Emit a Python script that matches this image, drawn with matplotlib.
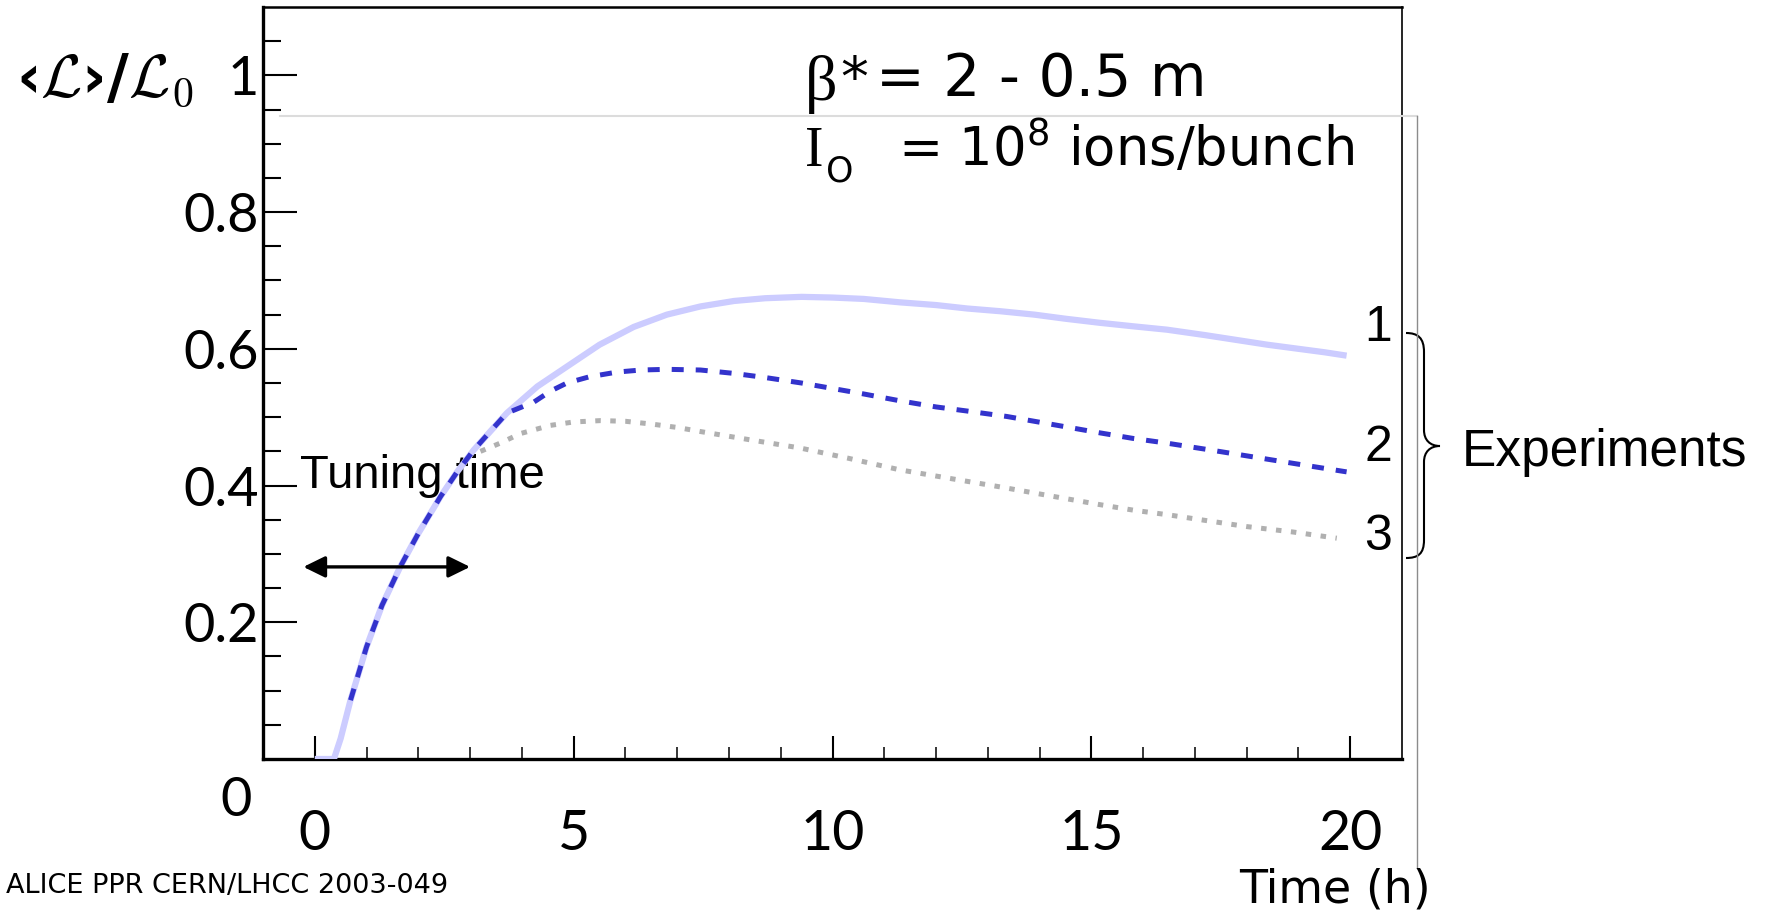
import matplotlib
matplotlib.use("Agg")
import matplotlib.pyplot as plt
from matplotlib.path import Path
from matplotlib.patches import PathPatch
from matplotlib.ticker import FixedLocator

# Normalised mean luminosity <L>/L0 versus fill time (h) for the three experiments
time_exp1 = [0.0, 0.37, 0.5, 0.69, 1.0, 1.3, 1.65, 2.0, 2.43, 2.75, 3.07, 3.4, 3.71, 4.3,
             4.87, 5.5, 6.16, 6.8, 7.45, 8.1, 8.7, 9.4, 10.0, 10.6, 11.3, 12.0, 12.6,
             13.24, 13.9, 14.5, 15.17, 15.8, 16.46, 17.2, 17.8, 18.4, 19.0, 19.5, 19.93]
lumi_exp1 = [0.0, 0.0, 0.03, 0.086, 0.164, 0.225, 0.281, 0.33, 0.384, 0.42, 0.452, 0.48,
             0.506, 0.545, 0.574, 0.606, 0.632, 0.650, 0.662, 0.670, 0.674, 0.676, 0.675,
             0.673, 0.668, 0.664, 0.659, 0.655, 0.650, 0.644, 0.638, 0.633, 0.628, 0.620,
             0.613, 0.606, 0.600, 0.595, 0.590]

time_exp2 = [0.69, 1.0, 1.3, 1.65, 2.0, 2.43, 2.75, 3.07, 3.4, 3.71, 4.23, 4.55, 4.87, 5.3,
             5.84, 6.3, 6.8, 7.45, 8.1, 8.7, 9.4, 10.0, 10.6, 11.3, 12.0, 12.6, 13.37,
             14.2, 15.17, 15.8, 16.46, 17.3, 18.2, 19.1, 19.93]
lumi_exp2 = [0.086, 0.164, 0.225, 0.281, 0.33, 0.384, 0.42, 0.452, 0.48, 0.506, 0.522,
             0.538, 0.550, 0.559, 0.566, 0.569, 0.570, 0.569, 0.564, 0.558, 0.550, 0.542,
             0.534, 0.524, 0.515, 0.509, 0.501, 0.490, 0.477, 0.469, 0.462, 0.452, 0.441,
             0.430, 0.420]

time_exp3 = [3.2, 3.58, 3.97, 4.55, 5.0, 5.52, 6.0, 6.5, 7.0, 7.45, 8.4, 9.37, 10.3, 11.3,
             12.3, 13.24, 14.2, 15.17, 15.81, 16.5, 17.2, 18.0, 18.9, 19.74]
lumi_exp3 = [0.45, 0.462, 0.476, 0.488, 0.493, 0.495, 0.494, 0.490, 0.485, 0.479, 0.467,
             0.455, 0.440, 0.423, 0.410, 0.398, 0.385, 0.372, 0.364, 0.357, 0.349, 0.340,
             0.332, 0.323]

series_labels = ["1", "2", "3"]
x_major = [0, 5, 10, 15, 20]
x_minor = [1, 2, 3, 4, 6, 7, 8, 9, 11, 12, 13, 14, 16, 17, 18, 19]
y_major = [0.2, 0.4, 0.6, 0.8, 1.0]
y_major_labels = ["0.2", "0.4", "0.6", "0.8", "1"]
y_minor = [0.05, 0.1, 0.15, 0.25, 0.3, 0.35, 0.45, 0.5, 0.55, 0.65, 0.7, 0.75,
           0.85, 0.9, 0.95, 1.05]
tuning_span = (-0.22, 3.0)
tuning_level = 0.281

W, H = 1771, 916
fig = plt.figure(figsize=(W / 100, H / 100), dpi=100)
fig.patch.set_facecolor("white")

ax = fig.add_axes([263 / W, (H - 759) / H, (1402 - 263) / W, (759 - 7) / H])
ax.set_xlim(-1, 21)
ax.set_ylim(0, 1.1)

# luminosity curves
ax.plot(time_exp3, lumi_exp3, color="#b0b0b0", lw=3.6, dashes=(1.1, 1.9), zorder=2)
ax.plot(time_exp1, lumi_exp1, color="#ccccff", lw=4.5, solid_capstyle="butt", zorder=3)
ax.plot(time_exp2, lumi_exp2, color="#3333cc", lw=3.6, dashes=(2.4, 2.4), zorder=4)

# tuning-time arrow and label
ax.annotate("", xy=(tuning_span[0], tuning_level), xytext=(tuning_span[1], tuning_level),
            arrowprops=dict(arrowstyle="<|-|>,head_length=0.55,head_width=0.27",
                            mutation_scale=24, color="black", lw=2.4,
                            shrinkA=0, shrinkB=0), zorder=5)
ax.text(-0.28, 0.396, "Tuning time", fontsize=34, family="Liberation Sans",
        ha="left", va="baseline", zorder=1)

# axes frame and ticks
for side, lw in (("left", 2.4), ("bottom", 2.4), ("top", 1.8), ("right", 1.2)):
    ax.spines[side].set_linewidth(lw)
ax.xaxis.set_major_locator(FixedLocator(x_major))
ax.xaxis.set_minor_locator(FixedLocator(x_minor))
ax.yaxis.set_major_locator(FixedLocator(y_major))
ax.yaxis.set_minor_locator(FixedLocator(y_minor))
ax.set_xticklabels([str(v) for v in x_major])
ax.set_yticklabels(y_major_labels)
ax.tick_params(axis="x", which="major", direction="in", length=16.6, width=1.5,
               pad=36, labelsize=40)
ax.tick_params(axis="x", which="minor", direction="in", length=8.8, width=1.1)
ax.tick_params(axis="y", which="major", direction="in", length=24.5, width=1.5,
               pad=3, labelsize=39)
ax.tick_params(axis="y", which="minor", direction="in", length=12.8, width=1.5)
for lab in ax.get_xticklabels() + ax.get_yticklabels():
    lab.set_family("Lato")

# overlay in figure pixel coordinates for the annotations around the frame
ov = fig.add_axes([0, 0, 1, 1], zorder=5)
ov.set_xlim(0, W)
ov.set_ylim(H, 0)
ov.axis("off")
ov.patch.set_alpha(0)

ov.plot([280, 1417], [116, 116], color="#dcdcdc", lw=1.5)
ov.plot([1417, 1417], [116, 868], color="#8c8c8c", lw=1.0)

ov.text(236, 800, "0", fontsize=39, family="Lato", ha="center", va="center")
ov.text(16, 80, r"‹$\mathcal{L}$›/$\mathcal{L}_{\mathsf{0}}$", fontsize=43,
        math_fontfamily="cm", ha="left", va="center", fontweight="bold")

ov.text(805, 100, "β", fontsize=46, family="Liberation Serif", ha="left", va="baseline")
ov.text(840, 96, "*", fontsize=40, family="DejaVu Sans", ha="left", va="baseline")
ov.text(876, 96, "= 2 - 0.5 m", fontsize=42, family="DejaVu Sans",
        ha="left", va="baseline")
ov.text(805, 166, "I", fontsize=40, family="Liberation Serif", ha="left", va="baseline")
ov.text(826, 181, "O", fontsize=25, family="DejaVu Sans", ha="left", va="baseline")
ov.text(898, 166, r"= 10$^{8}$ ions/bunch", fontsize=38, family="DejaVu Sans",
        math_fontfamily="dejavusans", ha="left", va="baseline")

for lab, yc in zip(series_labels, (328, 448, 537)):
    ov.text(1378, yc, lab, fontsize=36, family="Liberation Sans", ha="center", va="center")

brace = Path(
    [(1406, 333), (1418, 333), (1424, 338), (1424, 352),
     (1424, 430),
     (1424, 440), (1430, 446), (1440, 446),
     (1430, 446), (1424, 452), (1424, 462),
     (1424, 540),
     (1424, 554), (1418, 558), (1406, 558)],
    [Path.MOVETO, Path.CURVE4, Path.CURVE4, Path.CURVE4,
     Path.LINETO,
     Path.CURVE4, Path.CURVE4, Path.CURVE4,
     Path.CURVE4, Path.CURVE4, Path.CURVE4,
     Path.LINETO,
     Path.CURVE4, Path.CURVE4, Path.CURVE4])
ov.add_patch(PathPatch(brace, facecolor="none", edgecolor="black", lw=1.5))
ov.text(1462, 466, "Experiments", fontsize=37, family="Liberation Sans",
        ha="left", va="baseline")

ov.text(1335, 890, "Time (h)", fontsize=33, family="DejaVu Sans", ha="center",
        va="center", bbox=dict(facecolor="white", edgecolor="none", pad=0))
ov.text(6, 886, "ALICE PPR CERN/LHCC 2003-049", fontsize=19.5, family="DejaVu Sans",
        ha="left", va="center")

fig.savefig("out.png", dpi=100, facecolor="white")
